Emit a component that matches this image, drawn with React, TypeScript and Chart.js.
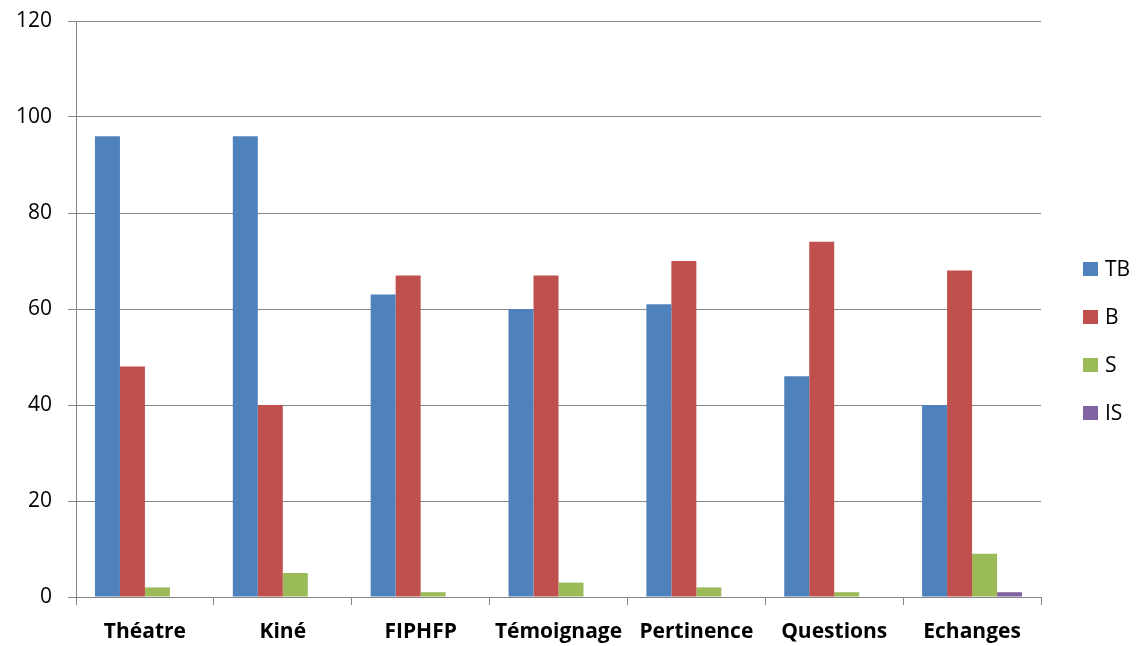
import React, { useEffect, useRef } from "react";
import { Chart, registerables } from "chart.js";

Chart.register(...registerables);

const categories = ["Théatre", "Kiné", "FIPHFP", "Témoignage", "Pertinence", "Questions", "Echanges"];
const seriesTB = [96, 96, 63, 60, 61, 46, 40];
const seriesB = [48, 40, 67, 67, 70, 74, 68];
const seriesS = [2, 5, 1, 3, 2, 1, 9];
const seriesIS = [0, 0, 0, 0, 0, 0, 1];
const seriesNames = ["TB", "B", "S", "IS"];
const seriesColors = ["#4F81BD", "#C0504D", "#9BBB59", "#8064A2"];
const yTicks = { min: 0, max: 120, step: 20 };

const FONT = "'Open Sans', 'Liberation Sans', sans-serif";

const customLegend = {
  id: "customLegend",
  afterDraw(chart: any) {
    const ctx = chart.ctx;
    const items = chart.data.datasets;
    const boxX = 1083;
    const startY = 269;
    const gap = 48;
    ctx.save();
    ctx.font = `21px ${FONT}`;
    ctx.textBaseline = "middle";
    ctx.textAlign = "left";
    items.forEach((ds: any, i: number) => {
      const cy = startY + i * gap;
      ctx.fillStyle = ds.backgroundColor;
      ctx.fillRect(boxX, cy - 7, 15, 14);
      ctx.fillStyle = "#000";
      ctx.fillText(ds.label, 1105, cy + 1);
    });
    ctx.restore();
  },
};

export default function App() {
  const ref = useRef<HTMLCanvasElement>(null);
  useEffect(() => {
    if (!ref.current) return;
    const values = [seriesTB, seriesB, seriesS, seriesIS];
    const chart = new Chart(ref.current, {
      type: "bar",
      data: {
        labels: categories,
        datasets: values.map((v, i) => ({
          label: seriesNames[i],
          data: v,
          backgroundColor: seriesColors[i],
          borderWidth: 0,
          barPercentage: 1,
          categoryPercentage: 0.725,
        })),
      },
      options: {
        animation: false,
        responsive: false,
        maintainAspectRatio: false,
        layout: { padding: { left: 0, right: 103, top: 21, bottom: 0 } },
        plugins: {
          legend: { display: false },
          tooltip: { enabled: false },
        },
        scales: {
          x: {
            offset: true,
            grid: {
              display: true,
              offset: true,
              drawOnChartArea: false,
              drawTicks: true,
              tickLength: 8,
              color: "#868686",
            },
            border: { display: true, color: "#868686", width: 1 },
            ticks: {
              color: "#000",
              padding: 14,
              font: { family: FONT, size: 21, weight: "bold" },
              maxRotation: 0,
              autoSkip: false,
            },
            afterFit(scale: any) {
              scale.height = 49;
              scale.paddingLeft = 0;
              scale.paddingRight = 0;
            },
          },
          y: {
            min: yTicks.min,
            max: yTicks.max,
            ticks: {
              stepSize: yTicks.step,
              color: "#000",
              padding: 16,
              font: { family: FONT, size: 21 },
            },
            grid: {
              color: "#868686",
              tickLength: 8,
              lineWidth: 1,
            },
            border: { display: true, color: "#868686", width: 1 },
            afterFit(scale: any) {
              scale.width = 76;
              scale.paddingTop = 0;
              scale.paddingBottom = 0;
            },
          },
        },
      },
      plugins: [customLegend],
    });
    return () => chart.destroy();
  }, []);
  return (
    <div style={{ position: "fixed", left: 0, top: 0, width: 1144, height: 646, background: "#fff" }}>
      <canvas ref={ref} width={1144} height={646} style={{ display: "block" }} />
    </div>
  );
}
